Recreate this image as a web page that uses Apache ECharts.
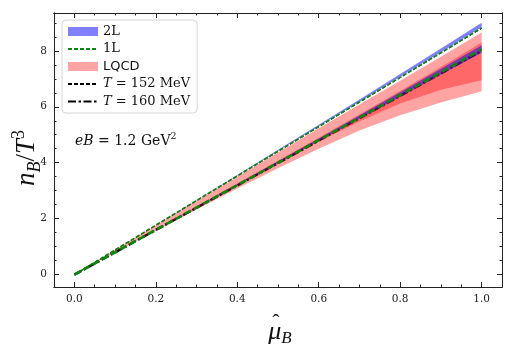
<!DOCTYPE html>
<html>
<head>
<meta charset="utf-8">
<script src="https://cdn.jsdelivr.net/npm/echarts@6/dist/echarts.min.js"></script>
<style>
  html, body { margin: 0; padding: 0; background: #fff; }
  #chart { width: 515px; height: 344px; }
</style>
</head>
<body>
<div id="chart"></div>
<script>
// mu_B hat
var muB = [0, 0.1, 0.2, 0.3, 0.4, 0.5, 0.6, 0.7, 0.8, 0.9, 1.0];

// 2L bands (T=152 upper, T=160 lower)
var twoL152Low  = [0, 0.886, 1.772, 2.655, 3.537, 4.418, 5.300, 6.182, 7.068, 7.952, 8.84];
var twoL152High = [0, 0.888, 1.780, 2.670, 3.565, 4.460, 5.360, 6.260, 7.170, 8.080, 9.00];
var twoL160Low  = [0, 0.798, 1.595, 2.390, 3.185, 3.980, 4.775, 5.570, 6.360, 7.150, 7.93];
var twoL160High = [0, 0.802, 1.607, 2.415, 3.225, 4.040, 4.860, 5.690, 6.520, 7.360, 8.20];

// 1L lines
var oneL152 = [0, 0.885, 1.770, 2.650, 3.530, 4.410, 5.290, 6.170, 7.050, 7.930, 8.82];
var oneL160 = [0, 0.800, 1.600, 2.400, 3.200, 4.000, 4.810, 5.610, 6.420, 7.230, 8.05];

// LQCD bands
var lqcd152Low  = [0, 0.820, 1.630, 2.430, 3.220, 4.000, 4.760, 5.470, 6.120, 6.610, 6.95];
var lqcd152High = [0, 0.878, 1.756, 2.630, 3.500, 4.370, 5.230, 6.080, 6.930, 7.790, 8.65];
var lqcd160Low  = [0, 0.790, 1.570, 2.330, 3.080, 3.800, 4.500, 5.150, 5.700, 6.150, 6.55];
var lqcd160High = [0, 0.812, 1.625, 2.440, 3.255, 4.070, 4.890, 5.720, 6.560, 7.420, 8.30];

// black reference lines
var t152Line = [0, 0.880, 1.760, 2.640, 3.520, 4.400, 5.280, 6.160, 7.040, 7.920, 8.80];
var t160Line = [0, 0.800, 1.600, 2.390, 3.190, 3.990, 4.790, 5.590, 6.390, 7.190, 8.00];

var xMajor = [0, 0.2, 0.4, 0.6, 0.8, 1.0];
var yMajor = [0, 2, 4, 6, 8];

var serif = '"Liberation Serif", "DejaVu Serif", serif';
var dserif = '"DejaVu Serif", serif';

var xMinor = [];
for (var i = -1; i <= 21; i++) xMinor.push(Math.round(i * 5) / 100);
var yMinor = [];
for (var j = 0; j <= 18; j++) yMinor.push(j * 0.5);

function pairs(ys) {
    var out = [];
    for (var k = 0; k < muB.length; k++) out.push([muB[k], ys[k]]);
    return out;
}

var blueFill = 'rgba(0,0,255,0.5)';
var redFill = 'rgba(255,0,0,0.36)';
var greenCol = '#0b870b';

// filled band between lo and hi, drawn as one polygon through the axes
function band(name, lo, hi, color) {
    var rows = [];
    for (var k = 0; k < muB.length; k++) rows.push([muB[k], lo[k], hi[k]]);
    return {
        name: name, type: 'custom', data: rows, z: 2, silent: true,
        itemStyle: { color: color },
        encode: { x: 0, y: [1, 2] },
        renderItem: function (params, api) {
            if (params.dataIndex !== 0) return;
            var pts = [];
            for (var k = 0; k < rows.length; k++) pts.push(api.coord([rows[k][0], rows[k][2]]));
            for (var m = rows.length - 1; m >= 0; m--) pts.push(api.coord([rows[m][0], rows[m][1]]));
            return { type: 'polygon', shape: { points: pts }, style: { fill: color } };
        }
    };
}

function axisX(pos, vals, len, showLabel) {
    return {
        type: 'value', position: pos, min: -0.05, max: 1.05,
        axisLine: { show: true, onZero: false, lineStyle: { color: '#222', width: 1 } },
        axisTick: { show: true, inside: true, length: len, customValues: vals, lineStyle: { color: '#222' } },
        axisLabel: {
            show: showLabel, customValues: vals, color: '#222', fontFamily: dserif, fontSize: 10.5, margin: 7,
            formatter: function (v) { return v.toFixed(1); }
        },
        splitLine: { show: false }
    };
}
function axisY(pos, vals, len, showLabel) {
    return {
        type: 'value', position: pos, min: -0.44, max: 9.35,
        axisLine: { show: true, onZero: false, lineStyle: { color: '#222', width: 1 } },
        axisTick: { show: true, inside: true, length: len, customValues: vals, lineStyle: { color: '#222' } },
        axisLabel: {
            show: showLabel, customValues: vals, color: '#222', fontFamily: dserif, fontSize: 10.5, margin: 7,
            formatter: function (v) { return String(v); }
        },
        splitLine: { show: false }
    };
}

var series = [];
series.push({
    name: 'T152', type: 'line', data: pairs(t152Line), symbol: 'none', z: 1,
    lineStyle: { color: '#000', width: 1, type: [4, 2] }, itemStyle: { color: '#000' }
});
series.push({
    name: 'T160', type: 'line', data: pairs(t160Line), symbol: 'none', z: 1,
    lineStyle: { color: '#000', width: 2.5, type: [8, 2.5, 2.5, 2.5] }, itemStyle: { color: '#000' }
});
series.push(band('LQCD', lqcd152Low, lqcd152High, redFill));
series.push(band('LQCD', lqcd160Low, lqcd160High, redFill));
series.push(band('2L', twoL152Low, twoL152High, blueFill));
series.push(band('2L', twoL160Low, twoL160High, blueFill));
series.push({
    name: '1L', type: 'line', data: pairs(oneL152), symbol: 'none', z: 5,
    lineStyle: { color: greenCol, width: 1.6, type: [4, 2] }, itemStyle: { color: greenCol }
});
series.push({
    name: '1L', type: 'line', data: pairs(oneL160), symbol: 'none', z: 5,
    lineStyle: { color: greenCol, width: 2.6, type: [7, 3.5] }, itemStyle: { color: greenCol }
});

var hideSym = { color: 'rgba(0,0,0,0)', borderWidth: 0 };

var chart = echarts.init(document.getElementById('chart'), null, { renderer: 'canvas' });
chart.setOption({
    animation: false,
    backgroundColor: '#fff',
    grid: { left: 54, right: 13, top: 13, bottom: 57 },
    xAxis: [
        axisX('bottom', xMajor, 5, true),
        axisX('bottom', xMinor, 2.5, false),
        axisX('top', xMajor, 5, false),
        axisX('top', xMinor, 2.5, false)
    ],
    yAxis: [
        axisY('left', yMajor, 5, true),
        axisY('left', yMinor, 2.5, false),
        axisY('right', yMajor, 5, false),
        axisY('right', yMinor, 2.5, false)
    ],
    legend: {
        orient: 'vertical', left: 62, top: 20,
        itemWidth: 30, itemHeight: 9, itemGap: 4.5,
        padding: [5, 7, 5, 5],
        backgroundColor: '#fff',
        borderColor: '#d6d6d6', borderWidth: 1, borderRadius: 4,
        textStyle: {
            fontFamily: dserif, fontSize: 13, color: '#111',
            rich: { it: { fontFamily: dserif, fontStyle: 'italic', fontSize: 13, color: '#111' } }
        },
        data: [
            { name: '2L', icon: 'rect', itemStyle: { color: '#8080ff' } },
            { name: '1L', itemStyle: hideSym },
            { name: 'LQCD', icon: 'rect', itemStyle: { color: '#ffa4a4' }, textStyle: { fontFamily: '"DejaVu Sans", sans-serif', fontSize: 13 } },
            { name: 'T152', itemStyle: hideSym },
            { name: 'T160', itemStyle: hideSym }
        ],
        formatter: function (name) {
            if (name === 'T152') return '{it|T} = 152 MeV';
            if (name === 'T160') return '{it|T} = 160 MeV';
            return name;
        }
    },
    graphic: [
        {
            type: 'text', x: 75, y: 132,
            style: {
                text: '{it|eB} = 1.2 GeV{sup|2}',
                font: '14px ' + dserif, fill: '#111',
                rich: {
                    it: { fontFamily: dserif, fontStyle: 'italic', fontSize: 14 },
                    sup: { fontFamily: dserif, fontSize: 9.5, verticalAlign: 'top', lineHeight: 18 }
                }
            }
        },
        {
            type: 'text', x: 27, y: 158, rotation: Math.PI / 2,
            style: {
                text: '{it|n}{sub|B}{n|/}{it|T}{sup|3}',
                align: 'center', verticalAlign: 'middle', fill: '#111',
                rich: {
                    it: { fontFamily: serif, fontStyle: 'italic', fontSize: 27, lineHeight: 34 },
                    n: { fontFamily: serif, fontSize: 27, lineHeight: 34 },
                    sub: { fontFamily: serif, fontStyle: 'italic', fontSize: 18, verticalAlign: 'bottom', lineHeight: 24 },
                    sup: { fontFamily: serif, fontSize: 18, verticalAlign: 'top', lineHeight: 24 }
                }
            }
        },
        {
            type: 'text', x: 280, y: 332,
            style: {
                text: '{it|\u03bc}{sub|B}',
                align: 'center', verticalAlign: 'middle', fill: '#111',
                rich: {
                    it: { fontFamily: serif, fontStyle: 'italic', fontSize: 26, lineHeight: 30 },
                    sub: { fontFamily: serif, fontStyle: 'italic', fontSize: 17, verticalAlign: 'bottom', lineHeight: 20 }
                }
            }
        },
        {
            type: 'text', x: 276, y: 323,
            style: { text: '\u02c6', font: '22px ' + serif, fill: '#111', align: 'center', verticalAlign: 'middle' }
        }
    ],
    series: series
});
</script>
</body>
</html>
